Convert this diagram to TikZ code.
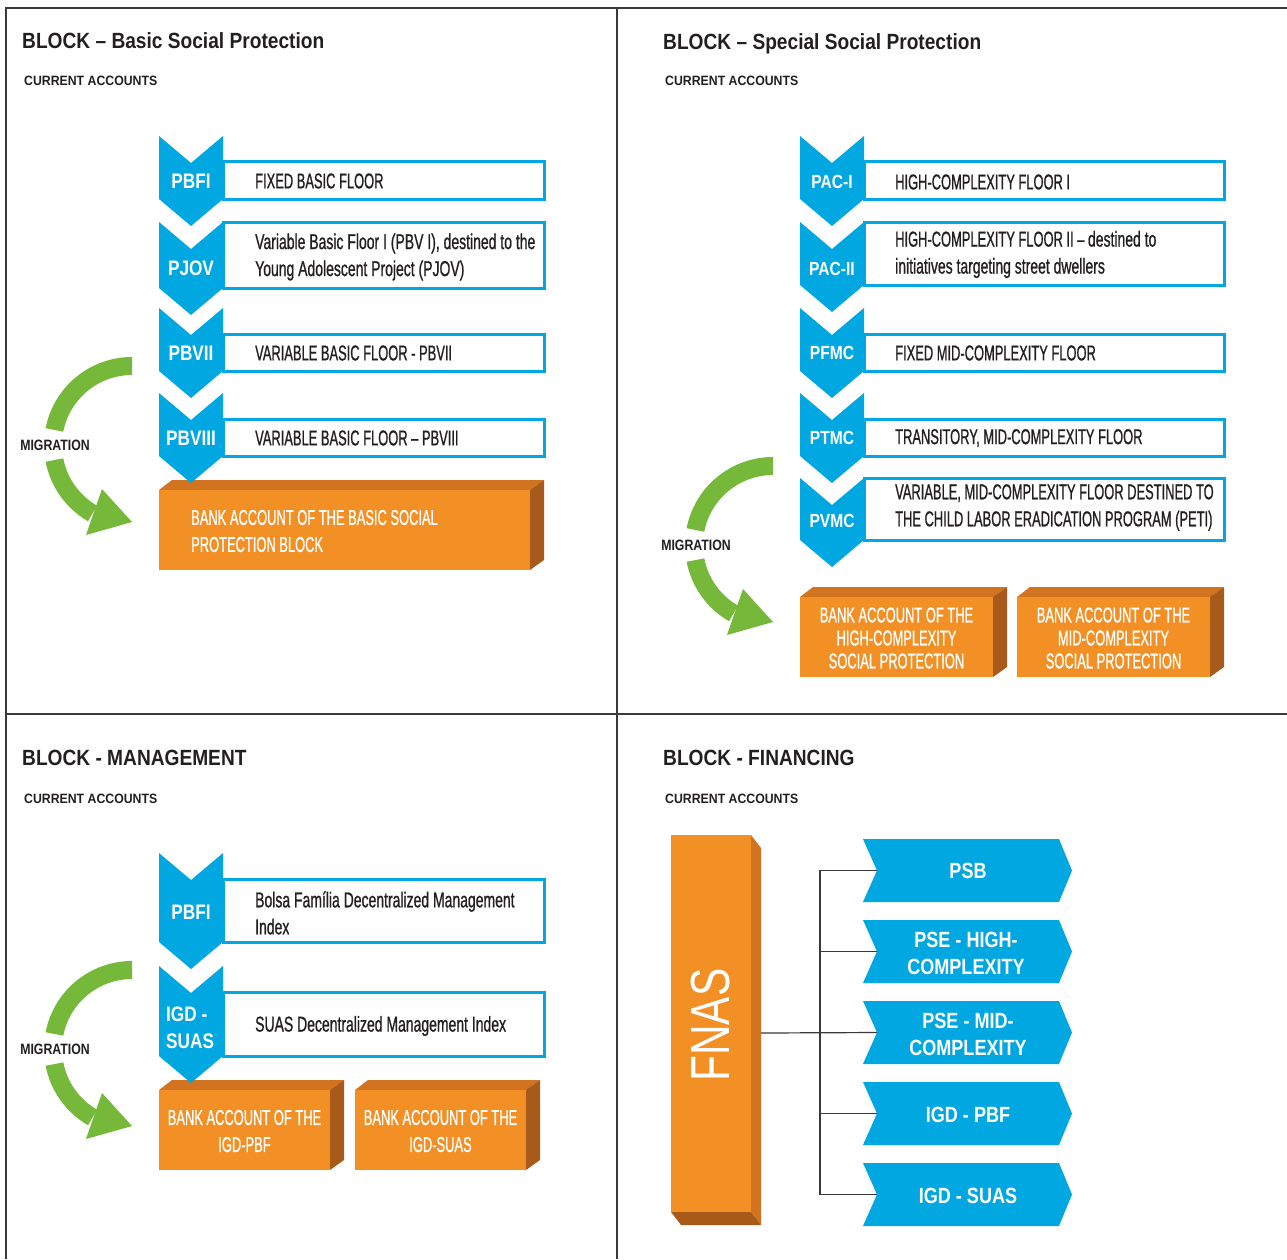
\documentclass[tikz,border=0pt]{standalone}
\usepackage{fontspec}
\setmainfont{Liberation Sans}
\newfontfamily\fTitle[FakeStretch=0.87]{Liberation Sans}
\newfontfamily\fSub[FakeStretch=0.91]{Liberation Sans}
\newfontfamily\fNarrow[FakeStretch=0.6,FakeBold=0.8]{Liberation Sans}
\newfontfamily\fNarrowL[FakeStretch=0.65,FakeBold=0.8]{Liberation Sans}
\newfontfamily\fLab[FakeStretch=0.82]{Liberation Sans}
\newfontfamily\fFnas[FakeStretch=0.77]{Liberation Sans}
\usetikzlibrary{calc}
\definecolor{cblue}{HTML}{00A7E1}
\definecolor{corange}{HTML}{F29026}
\definecolor{ctop}{HTML}{D1731F}
\definecolor{cside}{HTML}{A85A1B}
\definecolor{cgreen}{HTML}{76B83A}
\definecolor{ctext}{HTML}{231F20}
\definecolor{cframe}{HTML}{3A3A3A}
\tikzset{
 frameline/.style={draw=cframe, line width=1.6},
 boxline/.style={draw=cblue, line width=3, fill=white},
 conn/.style={draw=cframe, line width=1.2},
 titletext/.style={font=\fTitle\bfseries\fontsize{22}{26}\selectfont, text=ctext, anchor=base west, inner sep=0},
 subtext/.style={font=\fSub\bfseries\fontsize{13.5}{16}\selectfont, text=ctext, anchor=base west, inner sep=0},
 boxtext/.style={font=\fNarrow\fontsize{21.5}{27}\selectfont, text=ctext, anchor=west, align=left, inner sep=0},
 boxtextl/.style={boxtext, font=\fNarrowL\fontsize{21.5}{27}\selectfont},
 chevlab/.style={font=\fLab\bfseries\fontsize{21}{27}\selectfont, text=white, inner sep=0, align=left},
 chevlabs/.style={font=\fLab\bfseries\fontsize{19}{24}\selectfont, text=white, inner sep=0},
 otext/.style={font=\fNarrow\fontsize{21.5}{27}\selectfont, text=white, inner sep=0},
 migtext/.style={font=\fLab\bfseries\fontsize{15}{18}\selectfont, text=ctext, inner sep=0},
 sigtext/.style={font=\fLab\bfseries\fontsize{22}{27}\selectfont, text=white, align=center, inner sep=0},
}
% chevron: x, top y, side bottom y
\newcommand\mychev[3]{\fill[cblue] (#1,#2) -- ++(32,27) -- ++(32,-27) -- (#1+64,#3) -- ++(-32,27) -- ++(-32,-27) -- cycle;}
% 3D orange box: front x1,y1,x2,y2
\newcommand\myobox[4]{%
 \fill[ctop] (#1,#2) -- (#1+13,#2-10) -- (#3+14,#2-10) -- (#3,#2) -- cycle;
 \fill[cside] (#3,#2) -- (#3+14,#2-10) -- (#3+14,#4-10) -- (#3,#4) -- cycle;
 \fill[corange] (#1,#2) rectangle (#3,#4);}
% migration arrow: anchor x, y, node name
\newcommand\mymig[3]{%
 \begin{scope}[shift={(#1,#2)}]
  \fill[cgreen] ($(0,88)+(90:88pt)$) arc[start angle=90,end angle=169,radius=88pt]
    -- ($(0,88)+(169:70pt)$) arc[start angle=169,end angle=90,radius=70pt] -- cycle;
  \fill[cgreen] ($(0,88)+(191:88pt)$) arc[start angle=191,end angle=240,radius=88pt]
    -- ($(0,88)+(240:70pt)$) arc[start angle=240,end angle=191,radius=70pt] -- cycle;
  \fill[cgreen] (-30,132) -- (0,165) -- (-46,178) -- cycle;
  \node[migtext] (#3) at (-77,88) {MIGRATION};
 \end{scope}}
% signal arrow: top y, coordinate name
\newcommand\mysig[2]{%
 \fill[cblue] (863,#1) -- (1059,#1) -- (1072,#1+31.5) -- (1059,#1+63) -- (863,#1+63) -- (877,#1+31.5) -- cycle;
 \coordinate (#2) at (877,#1+31.5);}
\begin{document}
\begin{tikzpicture}[x=1pt,y=-1pt]
\useasboundingbox (0,0) rectangle (1287,1259);
\fill[white] (0,0) rectangle (1287,1259);
% frame
\draw[frameline] (6,1259) -- (6,8) -- (1287,8);
\draw[frameline] (617,8) -- (617,1259);
\draw[frameline] (6,714) -- (1287,714);

% ===== Q1 Basic =====
\node[titletext] (t1) at (22,48) {BLOCK – Basic Social Protection};
\node[subtext] (s1) at (24,85) {CURRENT ACCOUNTS};
\draw[boxline] (223,161) rectangle (544,199);
\draw[boxline] (223,222) rectangle (544,288);
\draw[boxline] (223,334) rectangle (544,371);
\draw[boxline] (223,419) rectangle (544,456);
\myobox{159}{490}{530}{570}
\mychev{159}{136}{199}
\mychev{159}{222}{288}
\mychev{159}{308}{371}
\mychev{159}{393}{456}
\node[chevlab] (a1) at (191,181) {PBFI};
\node[chevlab] (a2) at (191,268) {PJOV};
\node[chevlab] (a3) at (191,353) {PBVII};
\node[chevlab] (a4) at (191,438) {PBVIII};
\node[boxtext] (b1) at (255,181) {FIXED BASIC FLOOR};
\node[boxtextl] (b2) at (255,257) {Variable Basic Floor I (PBV I), destined to the\\Young Adolescent Project (PJOV)};
\node[boxtext] (b3) at (255,353) {VARIABLE BASIC FLOOR - PBVII};
\node[boxtext] (b4) at (255,438) {VARIABLE BASIC FLOOR – PBVIII};
\node[otext, anchor=west, align=left] (o1) at (191,531) {BANK ACCOUNT OF THE BASIC SOCIAL\\PROTECTION BLOCK};
\mymig{132}{357}{m1}

% ===== Q2 Special =====
\node[titletext] (t2) at (663,49) {BLOCK – Special Social Protection};
\node[subtext] (s2) at (665,85) {CURRENT ACCOUNTS};
\draw[boxline] (864,161) rectangle (1224,199);
\draw[boxline] (864,222) rectangle (1224,285);
\draw[boxline] (864,334) rectangle (1224,371);
\draw[boxline] (864,419) rectangle (1224,456);
\draw[boxline] (864,478) rectangle (1224,540);
\myobox{800}{597}{993}{677}
\myobox{1017}{597}{1210}{677}
\mychev{800}{136}{199}
\mychev{800}{222}{285}
\mychev{800}{308}{371}
\mychev{800}{393}{456}
\mychev{800}{478}{540}
\node[chevlabs] (c1) at (832,182) {PAC-I};
\node[chevlabs] (c2) at (832,269) {PAC-II};
\node[chevlabs] (c3) at (832,353) {PFMC};
\node[chevlabs] (c4) at (832,438) {PTMC};
\node[chevlabs] (c5) at (832,521) {PVMC};
\node[boxtext] (d1) at (895,182) {HIGH-COMPLEXITY FLOOR I};
\node[boxtext, font=\fontsize{21.5}{27}\selectfont] (d2) at (895,254.5) {{\fNarrow HIGH-COMPLEXITY FLOOR II – }{\fNarrowL destined to}\\{\fNarrowL initiatives targeting street dwellers}};
\node[boxtext] (d3) at (895,353) {FIXED MID-COMPLEXITY FLOOR};
\node[boxtext] (d4) at (895,438) {TRANSITORY, MID-COMPLEXITY FLOOR};
\node[boxtext] (d5) at (895,507.5) {VARIABLE, MID-COMPLEXITY FLOOR DESTINED TO\\THE CHILD LABOR ERADICATION PROGRAM (PETI)};
\node[otext, align=center, font=\fNarrow\fontsize{21.5}{23}\selectfont] (o2) at (896.5,638) {BANK ACCOUNT OF THE\\HIGH-COMPLEXITY\\SOCIAL PROTECTION};
\node[otext, align=center, font=\fNarrow\fontsize{21.5}{23}\selectfont] (o3) at (1113.5,638) {BANK ACCOUNT OF THE\\MID-COMPLEXITY\\SOCIAL PROTECTION};
\mymig{773}{457}{m2}

% ===== Q3 Management =====
\node[titletext] (t3) at (22,765) {BLOCK - MANAGEMENT};
\node[subtext] (s3) at (24,803) {CURRENT ACCOUNTS};
\draw[boxline] (223,879) rectangle (544,942);
\draw[boxline] (223,992) rectangle (544,1056);
\myobox{159}{1090}{330}{1170}
\myobox{355}{1090}{526}{1170}
\mychev{159}{853}{942}
\mychev{159}{966}{1056}
\node[chevlab] (e1) at (191,912) {PBFI};
\node[chevlab, anchor=west] (e2) at (166,1028) {IGD -\\SUAS};
\node[boxtextl] (f1) at (255,913) {Bolsa Família Decentralized Management\\Index};
\node[boxtextl] (f2) at (255,1026) {SUAS Decentralized Management Index};
\node[otext, align=center] (o4) at (244.5,1131) {BANK ACCOUNT OF THE\\IGD-PBF};
\node[otext, align=center] (o5) at (440.5,1131) {BANK ACCOUNT OF THE\\IGD-SUAS};
\mymig{132}{961}{m3}

% ===== Q4 Financing =====
\node[titletext] (t4) at (663,765) {BLOCK - FINANCING};
\node[subtext] (s4) at (665,803) {CURRENT ACCOUNTS};
\fill[ctop] (751,835) -- (761,848) -- (761,1225) -- (751,1212) -- cycle;
\fill[cside] (671,1212) -- (681,1225) -- (761,1225) -- (751,1212) -- cycle;
\fill[corange] (671,835) rectangle (751,1212);
\node[rotate=90, font=\fFnas\fontsize{55}{60}\selectfont, text=white, inner sep=0] (fnas) at (711,1025) {FNAS};
\coordinate (fnasout) at (761,1033);
\coordinate (bus) at (820,1033);
\mysig{839}{in1}
\mysig{920}{in2}
\mysig{1001}{in3}
\mysig{1082}{in4}
\mysig{1163}{in5}
\node[sigtext] (g1) at (968,870.5) {PSB};
\node[sigtext] (g2) at (966,953) {PSE - HIGH-\\COMPLEXITY};
\node[sigtext] (g3) at (968,1034) {PSE - MID-\\COMPLEXITY};
\node[sigtext] (g4) at (968,1115) {IGD - PBF};
\node[sigtext] (g5) at (968,1196) {IGD - SUAS};
\draw[conn] (fnasout) -- (in3);
\draw[conn] (in1) -- (in1 -| bus) -- (in5 -| bus) -- (in5);
\draw[conn] (in2 -| bus) -- (in2);
\draw[conn] (in4 -| bus) -- (in4);
\end{tikzpicture}
\end{document}
